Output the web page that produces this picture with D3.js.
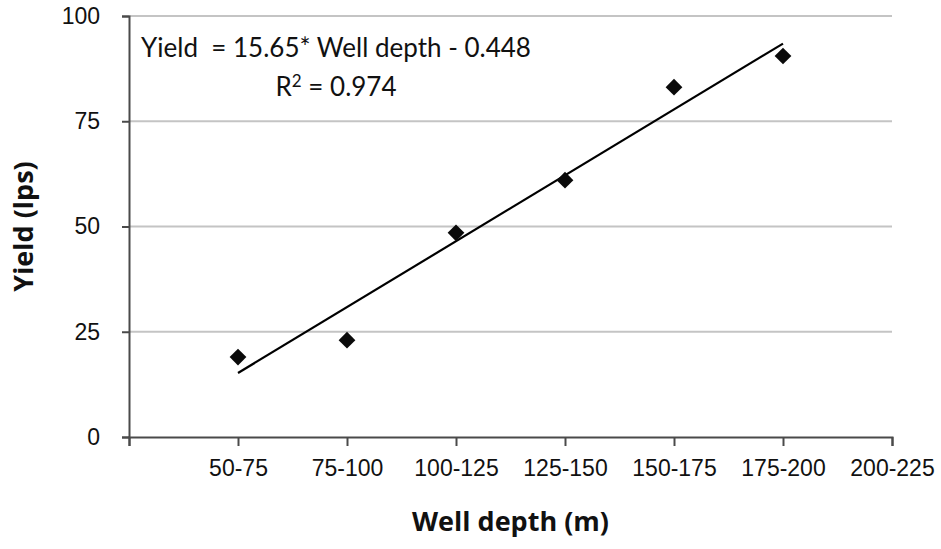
<!DOCTYPE html>
<html lang="en">
<head>
    <meta charset="UTF-8">
    <title>Yield vs well depth</title>
    <style>
        body { margin: 0; background: #fff; }
    </style>
</head>
<body>
    <div class="container"></div>
    <script src="https://cdn.jsdelivr.net/npm/d3@7/dist/d3.min.js"></script>
    <script>
        // data
        const depthClasses = ["50-75", "75-100", "100-125", "125-150", "150-175", "175-200", "200-225"]
        const yieldValues = [19.0, 23.0, 48.5, 61.0, 83.1, 90.5]
        const yTicks = [0, 25, 50, 75, 100]
        // fitted line as printed on the chart
        const slope = 15.65
        const intercept = -0.448
        const r2 = 0.974

        const width = 941
        const height = 549
        const plotLeft = 129, plotRight = 892, plotTop = 16, plotBottom = 437

        const svg = d3.select('.container').append("svg")
            .attr("width", width)
            .attr("height", height)

        const x = d3.scaleLinear().domain([0, depthClasses.length]).range([plotLeft, plotRight])
        const y = d3.scaleLinear().domain([0, 100]).range([plotBottom, plotTop])

        // gridlines
        svg.append("g").attr("class", "grid")
            .selectAll("line")
            .data(yTicks.filter(d => d > 0))
            .join("line")
            .attr("x1", plotLeft).attr("x2", plotRight)
            .attr("y1", d => y(d)).attr("y2", d => y(d))
            .attr("stroke", "#c4c4c4")
            .attr("stroke-width", 2)

        const tickFont = "'Liberation Sans', Arial, sans-serif"

        const xAxis = d3.axisBottom(x)
            .tickValues(d3.range(0, depthClasses.length + 1))
            .tickFormat(i => i === 0 ? "" : depthClasses[i - 1])
            .tickSize(9)
            .tickPadding(14)
        const gx = svg.append("g")
            .attr("transform", `translate(0,${plotBottom})`)
            .call(xAxis)

        const yAxis = d3.axisLeft(y)
            .tickValues(yTicks)
            .tickSize(7)
            .tickPadding(22)
        const gy = svg.append("g")
            .attr("transform", `translate(${plotLeft},0)`)
            .call(yAxis)

        for (const g of [gx, gy]) {
            g.select(".domain").attr("stroke", "#4a4a4a").attr("stroke-width", 2)
            g.selectAll(".tick line").attr("stroke", "#4a4a4a").attr("stroke-width", 2)
            g.selectAll(".tick text")
                .attr("fill", "#111")
                .style("font-family", tickFont)
                .style("font-size", "23px")
        }

        // trendline
        const ends = [1, yieldValues.length]
        svg.append("line")
            .attr("x1", x(ends[0])).attr("y1", y(slope * ends[0] + intercept))
            .attr("x2", x(ends[1])).attr("y2", y(slope * ends[1] + intercept))
            .attr("stroke", "#000")
            .attr("stroke-width", 2.2)

        // points (diamonds)
        svg.append("g").selectAll("path")
            .data(yieldValues)
            .join("path")
            .attr("d", d3.symbol(d3.symbolSquare, 140))
            .attr("transform", (d, i) => `translate(${x(i + 1)},${y(d)}) rotate(45)`)
            .attr("fill", "#0a0a0a")

        // equation
        const eqFont = "Lato, 'Open Sans', sans-serif"
        svg.append("text")
            .attr("x", 336).attr("y", 57)
            .attr("text-anchor", "middle")
            .style("white-space", "pre")
            .style("font-family", eqFont)
            .style("font-size", "26px")
            .attr("fill", "#111")
            .text(`Yield  = ${slope}* Well depth - ${Math.abs(intercept)}`)

        const r = svg.append("text")
            .attr("x", 336).attr("y", 96)
            .attr("text-anchor", "middle")
            .style("font-family", eqFont)
            .style("font-size", "26px")
            .attr("fill", "#111")
        r.append("tspan").text("R")
        r.append("tspan").attr("dy", -9).style("font-size", "17px").text("2")
        r.append("tspan").attr("dy", 9).text(` = ${r2}`)

        // axis titles
        const titleFont = "'Open Sans', Lato, sans-serif"
        svg.append("text")
            .attr("x", (plotLeft + plotRight) / 2).attr("y", 531)
            .attr("text-anchor", "middle")
            .style("font-family", titleFont)
            .style("font-weight", "bold")
            .style("font-size", "27px")
            .attr("fill", "#111")
            .text("Well depth (m)")

        svg.append("text")
            .attr("transform", `translate(33,${(plotTop + plotBottom) / 2}) rotate(-90)`)
            .attr("text-anchor", "middle")
            .style("font-family", titleFont)
            .style("font-weight", "bold")
            .style("font-size", "27px")
            .attr("fill", "#111")
            .text("Yield (lps)")
    </script>
</body>
</html>
